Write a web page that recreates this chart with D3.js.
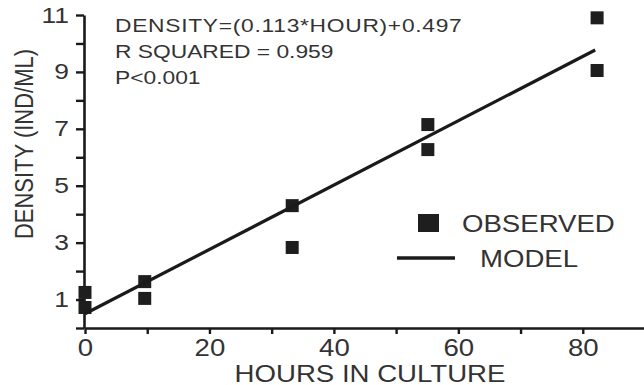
<!DOCTYPE html>
<html>
<head>
<meta charset="utf-8">
<script src="https://cdn.jsdelivr.net/npm/d3@7"></script>
<style>
  body { margin: 0; background: #fff; }
  text { font-family: "Liberation Sans", Arial, sans-serif; fill: #333; }
</style>
</head>
<body>
<div id="chart"></div>
<script>
// observed points
const hours = [0, 0, 9.6, 9.6, 33.3, 33.3, 55.1, 55.1, 82.3, 82.3];
const density = [1.25, 0.72, 1.63, 1.04, 4.3, 2.83, 7.15, 6.27, 10.9, 9.05];

// regression line end points
const modelHours = [0, 82];
const modelDensity = [0.5, 9.77];

const xTicks = [0, 10, 20, 30, 40, 50, 60, 70, 80, 90];
const yTicks = [0, 1, 2, 3, 4, 5, 6, 7, 8, 9, 10, 11];

const notes = ["DENSITY=(0.113*HOUR)+0.497", "R SQUARED = 0.959", "P<0.001"];

const W = 644, H = 385;
const stretch = 1.2; // the scan is wider than tall

const svg = d3.select("#chart").append("svg")
  .attr("width", W)
  .attr("height", H)
  .style("background", "#fff");

const x = d3.scaleLinear().domain([0, 90]).range([85, 645]);
const y = d3.scaleLinear().domain([0, 11]).range([328, 15]);

const addText = (x0, y0, str, size, anchor = "start", rot = 0) => {
  return svg.append("text")
    .attr("transform", `translate(${x0},${y0}) scale(${stretch},1)` + (rot ? ` rotate(${rot})` : ""))
    .attr("text-anchor", anchor)
    .style("font-size", size + "px")
    .text(str);
};

// X axis
const xAxis = svg.append("g")
  .attr("transform", `translate(0,${y(0)})`)
  .call(d3.axisBottom(x).tickValues(xTicks).tickSize(6).tickSizeOuter(0)
    .tickFormat(d => d % 20 === 0 ? d : ""));

xAxis.selectAll("text")
  .attr("y", 12)
  .attr("transform", `scale(${stretch},1)`)
  .style("font-size", "23px");

// Y axis
const yAxis = svg.append("g")
  .attr("transform", `translate(${x(0) - 1},0)`)
  .call(d3.axisLeft(y).tickValues(yTicks).tickSize(8).tickSizeOuter(0)
    .tickFormat(d => d % 2 === 1 ? d : ""));

yAxis.selectAll("text")
  .attr("x", -15 / stretch)
  .attr("transform", `scale(${stretch},1)`)
  .style("font-size", "22px");

svg.selectAll(".domain").attr("stroke", "#1a1a1a").attr("stroke-width", 2.6);
svg.selectAll(".tick line").attr("stroke", "#1a1a1a").attr("stroke-width", 2.4);

// Axis titles
addText(370, 381.5, "HOURS IN CULTURE", 23, "middle");
addText(33, 144, "DENSITY (IND/ML)", 22, "middle", -90);

// Regression note
notes.forEach((n, i) => {
  addText(115, 31.5 + i * 26, n, 19)
    .style("letter-spacing", i === 0 ? "0.6px" : "0px");
});

// Observed squares
const sq = 13;
svg.append("g").selectAll("rect")
  .data(hours.map((h, i) => ({ h, d: density[i] })))
  .join("rect")
  .attr("x", d => x(d.h) - sq / 2)
  .attr("y", d => y(d.d) - sq / 2)
  .attr("width", sq)
  .attr("height", sq)
  .attr("fill", "#1e1e1e");

// Model line
const line = d3.line().x(d => x(d[0])).y(d => y(d[1]));
svg.append("path")
  .datum(modelHours.map((h, i) => [h, modelDensity[i]]))
  .attr("d", line)
  .attr("fill", "none")
  .attr("stroke", "#1a1a1a")
  .attr("stroke-width", 3.2);

// Legend
svg.append("rect")
  .attr("x", 418).attr("y", 214)
  .attr("width", 21).attr("height", 18)
  .attr("fill", "#1e1e1e");
addText(462, 231.5, "OBSERVED", 23);

svg.append("line")
  .attr("x1", 397).attr("x2", 455)
  .attr("y1", 258).attr("y2", 258)
  .attr("stroke", "#1a1a1a")
  .attr("stroke-width", 3.5);
addText(480, 266.5, "MODEL", 23);
</script>
</body>
</html>
